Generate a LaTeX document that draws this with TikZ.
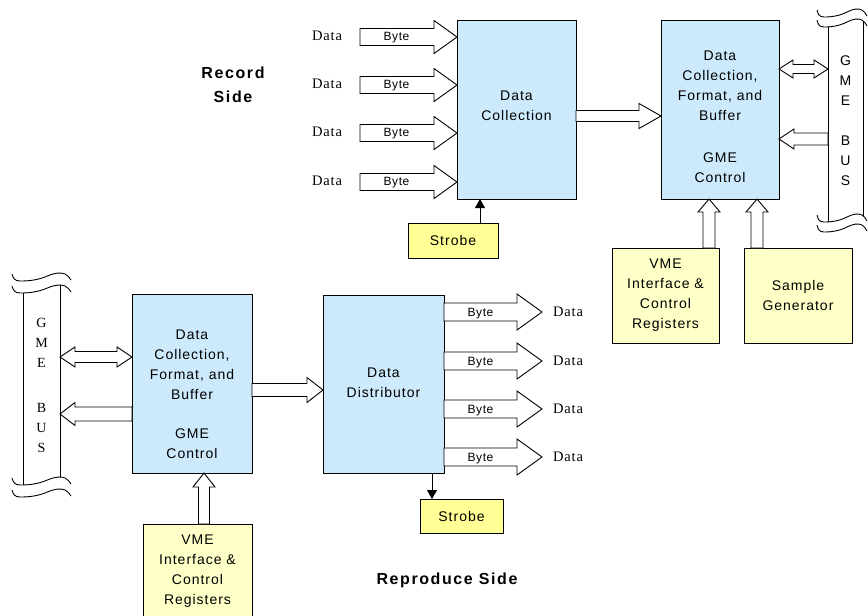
\documentclass[tikz,border=0pt]{standalone}
\usepackage{fontspec}
\setmainfont{Liberation Serif}
\newfontfamily\boxfont{Liberation Sans}[LetterSpace=7]
\newfontfamily\sidefont{Liberation Sans}[LetterSpace=10]
\newfontfamily\labfont{Liberation Serif}[LetterSpace=6]
\newfontfamily\bytefont{Liberation Sans}[LetterSpace=5]
\newfontfamily\busserif{Liberation Serif}
\usetikzlibrary{arrows.meta,calc}
\definecolor{boxblue}{RGB}{204,234,252}
\definecolor{paleyel}{RGB}{255,255,200}
\definecolor{strobeyel}{RGB}{255,255,150}
\tikzset{
  base/.style={draw=black, line width=0.9pt, inner sep=0pt, outer sep=0pt},
  bluebox/.style={base, fill=boxblue},
  yelbox/.style={base, fill=paleyel, align=center, font=\boxfont\fontsize{14}{20}\selectfont},
  strobebox/.style={base, fill=strobeyel, font=\boxfont\fontsize{14}{20}\selectfont},
  boxtxt/.style={align=center, inner sep=0pt, font=\boxfont\fontsize{14}{20}\selectfont},
  hollow/.style={draw=black, line width=0.9pt, fill=white, line join=miter},
  datalab/.style={inner sep=0pt, font=\labfont\fontsize{14.5}{16}\selectfont},
  bytelab/.style={inner sep=0pt, font=\bytefont\fontsize{12}{13}\selectfont},
  sidelab/.style={align=center, inner sep=0pt, font=\sidefont\bfseries\fontsize{16}{24}\selectfont},
  busR/.style={inner sep=0pt, outer sep=0pt, minimum width=35, minimum height=190, align=center, font=\boxfont\fontsize{14}{20}\selectfont},
  busL/.style={inner sep=0pt, outer sep=0pt, minimum width=37, minimum height=190, align=center, font=\busserif\fontsize{14}{20}\selectfont},
  busline/.style={draw=black, line width=0.9pt},
  strobearr/.style={draw=black, line width=0.9pt, -{Triangle[length=9pt,width=10pt]}},
  wave/.pic={
    \draw[busline] (0,0) .. controls (1,4) and (2,7) .. (7,7) .. controls (15,7) and (22,6) .. (30,2)
      .. controls (36,-1) and (41,-2) .. (45,0) .. controls (47,1) and (49,4) .. (50,6);
  }
}
\newcommand\hollowH[5]{%
  \draw[hollow] let \p1=(#1), \p2=(#2), \n1={sign(\x2-\x1)}, \n2={\x2-\n1*#5} in
  ({\x1},{\y1+#3}) -- ({\n2},{\y1+#3}) -- ({\n2},{\y1+#4}) -- (\x2,\y1)
  -- ({\n2},{\y1-#4}) -- ({\n2},{\y1-#3}) -- ({\x1},{\y1-#3}) -- cycle;}
\newcommand\hollowV[5]{%
  \draw[hollow] let \p1=(#1), \p2=(#2), \n1={sign(\y2-\y1)}, \n2={\y2-\n1*#5} in
  ({\x1+#3},{\y1}) -- ({\x1+#3},{\n2}) -- ({\x1+#4},{\n2}) -- (\x1,\y2)
  -- ({\x1-#4},{\n2}) -- ({\x1-#3},{\n2}) -- ({\x1-#3},{\y1}) -- cycle;}
\newcommand\hollowD[5]{%
  \draw[hollow] let \p1=(#1), \p2=(#2) in
  (\x1,\y1) -- ({\x1+#5},{\y1+#4}) -- ({\x1+#5},{\y1+#3}) -- ({\x2-#5},{\y1+#3}) -- ({\x2-#5},{\y1+#4}) -- (\x2,\y1)
  -- ({\x2-#5},{\y1-#4}) -- ({\x2-#5},{\y1-#3}) -- ({\x1+#5},{\y1-#3}) -- ({\x1+#5},{\y1-#4}) -- cycle;}
\begin{document}
\begin{tikzpicture}[x=1pt,y=-1pt]
\useasboundingbox (0,0) rectangle (868,616);
\fill[white] (0,0) rectangle (868,616);

% ---------- Record side ----------
\node[sidelab] (rec) at (233,85) {Record\\Side};

\node[bluebox, minimum width=119, minimum height=179] (dcol) at (516.5,109.5) {};
\node[boxtxt] (dcolt) at (516.5,106) {Data\\Collection};

\node[bluebox, minimum width=118, minimum height=179] (fmtR) at (720,109.5) {};
\node[boxtxt] (fmtRt) at (720,117) {Data\\Collection,\\Format, and\\Buffer\\[22pt]GME\\Control};

\node[yelbox, minimum width=107, minimum height=95] (vmeR) at (665.5,295.5) {VME\\Interface \&\\Control\\Registers};
\node[yelbox, minimum width=108, minimum height=95] (sampR) at (798,295.5) {Sample\\Generator};
\node[strobebox, minimum width=90, minimum height=35] (strobeT) at (453,240.5) {Strobe};

% right bus
\node[busR] (busR) at (845.5,121) {G\\M\\E\\[20pt]B\\U\\S};
\draw[busline] (828,27) -- (828,222);
\draw[busline] (863,20.5) -- (863,215.5);
\pic at (817,10) {wave};
\pic at (817,20) {wave};
\pic at (817,215) {wave};
\pic at (817,225) {wave};

% y levels and x positions
\coordinate (yA) at (0,116);
\coordinate (yB) at (0,69);
\coordinate (yC) at (0,139);
\coordinate (xA) at (709,0);
\coordinate (xB) at (757,0);
\coordinate (yD) at (0,357);
\coordinate (yE) at (0,414);
\coordinate (yF) at (0,390);
\coordinate (xC) at (204,0);

% inputs
\foreach \i/\y in {1/37,2/85,3/133,4/182}{
  \coordinate (bt\i) at (360,\y);
  \hollowH{bt\i}{dcol.west |- bt\i}{8.5}{16.5}{23}
  \node[bytelab] (byt\i) at (396.5,\y+1) {Byte};
  \node[datalab] (din\i) at (327,\y-1) {Data};
}
\coordinate (sx) at (480,0);
\draw[strobearr] (strobeT.north -| sx) -- (dcol.south -| sx);

\hollowH{dcol.east |- yA}{fmtR.west |- yA}{5.5}{12.5}{22}
\hollowD{fmtR.east |- yB}{busR.west |- yB}{4.5}{9}{14}
\hollowH{busR.west |- yC}{fmtR.east |- yC}{6}{10}{15}
\hollowV{vmeR.north -| xA}{fmtR.south -| xA}{6}{11}{13}
\hollowV{sampR.north -| xB}{fmtR.south -| xB}{6}{11}{13}

% ---------- Reproduce side ----------
\node[sidelab] (rep) at (447,580) {Reproduce Side};

\node[bluebox, minimum width=120, minimum height=179] (fmtL) at (192,383.5) {};
\node[boxtxt] (fmtLt) at (192,394) {Data\\Collection,\\Format, and\\Buffer\\[19pt]GME\\Control};

\node[bluebox, minimum width=121, minimum height=178] (dist) at (383.5,384) {};
\node[boxtxt] (distt) at (383.5,383) {Data\\Distributor};

\node[yelbox, minimum width=109, minimum height=94] (vmeL) at (197.5,571) {VME\\Interface \&\\Control\\Registers};
\node[strobebox, minimum width=83, minimum height=34] (strobeB) at (461.5,516) {Strobe};

% left bus
\node[busL] (busL) at (41.5,385) {G\\M\\E\\[25pt]B\\U\\S};
\draw[busline] (23,293) -- (23,485);
\draw[busline] (60,284.5) -- (60,476.5);
\pic[xscale=1.18] at (12,274) {wave};
\pic[xscale=1.18] at (12,286) {wave};
\pic[xscale=1.18] at (12,478) {wave};
\pic[xscale=1.18] at (12,490) {wave};

\hollowD{busL.east |- yD}{fmtL.west |- yD}{5.5}{10}{15}
\hollowH{fmtL.west |- yE}{busL.east |- yE}{7}{11.5}{15}
\hollowH{fmtL.east |- yF}{dist.west |- yF}{6.5}{12.5}{16}
\hollowV{vmeL.north -| xC}{fmtL.south -| xC}{5.5}{11}{14}

\foreach \i/\y in {1/312,2/361,3/409,4/457}{
  \coordinate (bo\i) at (542,\y);
  \hollowH{dist.east |- bo\i}{bo\i}{9}{18}{25}
  \node[bytelab] (byo\i) at (480.5,\y+2) {Byte};
  \node[datalab] (dout\i) at (568,\y) {Data};
}
\coordinate (sx2) at (432,0);
\draw[strobearr] (dist.south -| sx2) -- (strobeB.north -| sx2);
\end{tikzpicture}
\end{document}
